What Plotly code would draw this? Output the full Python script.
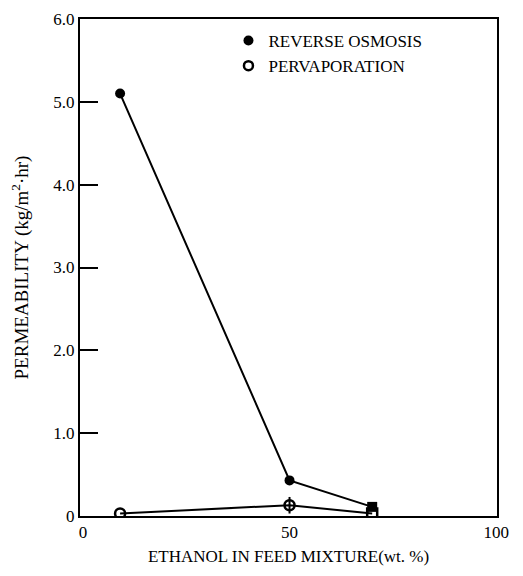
import plotly.graph_objects as go

ethanol = [9, 50, 70]
reverse_osmosis = [5.10, 0.43, 0.11]
pervaporation = [0.03, 0.13, 0.03]
pv_error = [0, 0.10, 0]

y_ticks = [0, 1, 2, 3, 4, 5, 6]
y_tick_labels = ["0", "1.0", "2.0", "3.0", "4.0", "5.0", "6.0"]
x_ticks = [0, 50, 100]
x_tick_labels = ["0", "50", "100"]

FONT = "Liberation Serif"

fig = go.Figure()
fig.add_trace(go.Scatter(
    x=ethanol, y=reverse_osmosis, mode="lines+markers",
    name="REVERSE OSMOSIS", showlegend=False,
    line=dict(color="black", width=2),
    marker=dict(symbol=["circle", "circle", "square"], size=10, color="black"),
))
fig.add_trace(go.Scatter(
    x=ethanol, y=pervaporation, mode="lines+markers",
    name="PERVAPORATION", showlegend=False,
    line=dict(color="black", width=2),
    marker=dict(symbol=["circle-open", "circle-open", "square-open"], size=10,
                color="black", line=dict(width=2.5)),
    error_y=dict(type="data", array=pv_error, color="black", thickness=2, width=0),
))
# legend entries (markers only, as in the reference key)
fig.add_trace(go.Scatter(x=[None], y=[None], mode="markers", name="REVERSE OSMOSIS",
                         marker=dict(symbol="circle", size=10, color="black")))
fig.add_trace(go.Scatter(x=[None], y=[None], mode="markers", name="PERVAPORATION",
                         marker=dict(symbol="circle-open", size=9, color="black", line=dict(width=2.5))))

fig.update_layout(
    width=507, height=560,
    margin=dict(l=72, r=18, t=11, b=52, autoexpand=False),
    paper_bgcolor="white", plot_bgcolor="white",
    font=dict(family=FONT, size=17, color="black"),
    showlegend=True,
    legend=dict(x=0.356, y=0.992, xanchor="left", yanchor="top",
                bgcolor="rgba(0,0,0,0)", font=dict(family=FONT, size=17),
                itemwidth=30, tracegroupgap=2),
    xaxis=dict(
        range=[-0.7, 100.2], tickmode="array", tickvals=x_ticks, ticktext=x_tick_labels,
        ticks="", showgrid=False, zeroline=False, automargin=False,
        showline=True, linecolor="black", linewidth=2, mirror=True,
        ticklabeloverflow="allow",
        title=dict(text="ETHANOL IN FEED MIXTURE(wt. %)", font=dict(family=FONT, size=17), standoff=9),
        tickfont=dict(family=FONT, size=17),
    ),
    yaxis=dict(
        range=[0, 6.0], tickmode="array", tickvals=y_ticks, ticktext=y_tick_labels,
        ticks="inside", ticklen=18, tickwidth=2, tickcolor="black",
        showgrid=False, zeroline=False, automargin=False,
        showline=True, linecolor="black", linewidth=2, mirror=True,
        ticklabeloverflow="allow",
        title=dict(text="PERMEABILITY (kg/m<sup>2</sup>·hr)", font=dict(family=FONT, size=19), standoff=21),
        tickfont=dict(family=FONT, size=17),
    ),
)

fig.write_html("out.html")
